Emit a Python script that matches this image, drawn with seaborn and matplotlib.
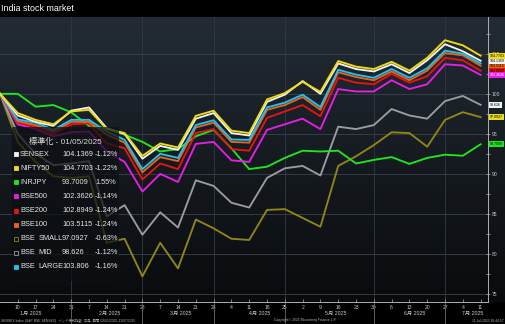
import numpy as np
import pandas as pd
import matplotlib
matplotlib.use("Agg")
import matplotlib.pyplot as plt
import matplotlib.dates as mdates
import matplotlib.transforms as mtrans
from matplotlib.patches import Rectangle
import seaborn as sns

# ---- data (weekly closes, normalised to 100 on 2025-01-03) ----
dates = pd.date_range("2025-01-03", periods=28, freq="7D")

nifty50 = [100, 97.6, 96.75, 96.2, 97.8, 98.0, 95.6, 95.1, 92.25, 93.8, 93.3, 97.25, 97.9, 95.4,
           95.1, 99.3, 100.1, 101.5, 100.25, 104.1, 103.4, 103.1, 104.0, 102.9, 104.5, 106.7, 106.06, 104.7703]
sensex = [100, 97.3, 96.5, 96.0, 97.9, 98.3, 95.7, 95.0, 91.9, 93.5, 93.0, 96.9, 97.6, 95.1,
          94.8, 99.0, 99.9, 101.6, 100.0, 103.8, 103.1, 102.8, 103.7, 102.6, 104.2, 106.2, 105.32, 104.1369]
bse_large = [100, 96.8, 96.4, 95.5, 96.75, 96.75, 95.3, 94.25, 90.6, 92.5, 92.0, 96.1, 96.7, 94.3,
             94.25, 98.3, 98.9, 99.9, 98.35, 103.0, 102.4, 102.0, 103.1, 102.0, 103.2, 105.4, 105.02, 103.806]
bse100 = [100, 96.6, 96.1, 95.3, 96.5, 96.5, 94.9, 93.9, 90.2, 92.1, 91.6, 95.8, 96.4, 94.0,
          93.9, 98.0, 98.6, 99.6, 98.0, 102.7, 102.1, 101.7, 102.8, 101.7, 102.9, 105.1, 104.81, 103.5115]
bse200 = [100, 96.4, 95.9, 95.0, 96.2, 96.3, 93.8, 93.2, 89.3, 91.3, 90.6, 95.1, 95.6, 93.1,
          92.9, 97.0, 97.8, 98.6, 97.2, 102.0, 101.4, 101.2, 102.5, 101.4, 102.2, 104.5, 104.19, 102.8949]
bse500 = [100, 96.2, 95.6, 94.7, 95.2, 95.3, 92.8, 91.5, 87.8, 90.0, 89.0, 93.75, 94.0, 91.7,
          91.5, 95.5, 96.2, 96.9, 95.6, 100.6, 100.3, 100.3, 101.7, 100.6, 101.2, 103.7, 103.54, 102.3626]
inrjpy = [100, 100.0, 98.4, 98.6, 97.7, 96.0, 95.7, 94.9, 94.0, 92.8, 93.1, 94.7, 95.5, 93.2,
          90.6, 90.9, 92.0, 92.9, 92.8, 92.9, 91.3, 91.75, 92.1, 91.25, 92.0, 92.4, 92.27, 93.7009]
bse_mid = [100, 95.0, 92.5, 91.1, 91.3, 91.6, 84.7, 86.1, 82.4, 85.2, 83.3, 89.2, 88.5, 86.4,
           85.8, 89.5, 90.7, 91.0, 89.8, 95.9, 95.6, 96.1, 98.1, 97.3, 96.9, 99.1, 99.74, 98.626]
bse_small = [100, 94.0, 91.5, 89.7, 89.5, 89.7, 81.4, 81.9, 77.2, 81.4, 78.2, 84.3, 83.2, 81.9,
             81.75, 85.5, 85.6, 84.5, 83.4, 91.0, 92.2, 93.6, 95.2, 95.1, 93.4, 96.75, 97.71, 97.0927]

legend_names = ["SENSEX", "NIFTY50", "INRJPY", "BSE500", "BSE200", "BSE100",
                ("BSE", "SMALL"), ("BSE", "MID"), ("BSE", "LARGE")]
legend_values = ["104.1369", "104.7703", "93.7009", "102.3626", "102.8949", "103.5115",
                 "97.0927", "98.626", "103.806"]
legend_changes = ["-1.12%", "-1.22%", "1.55%", "-1.14%", "-1.24%", "-1.24%",
                  "-0.63%", "-1.12%", "-1.16%"]
legend_title = "標準化 - 01/05/2025"
month_labels = ["1月 2025", "2月 2025", "3月 2025", "4月 2025", "5月 2025", "6月 2025", "7月 2025"]
y_ticks = [75, 80, 85, 90, 95, 100, 105]

series = {
    "SENSEX": sensex, "NIFTY50": nifty50, "INRJPY": inrjpy, "BSE500": bse500,
    "BSE200": bse200, "BSE100": bse100, "BSE SMALL": bse_small, "BSE MID": bse_mid,
    "BSE LARGE": bse_large,
}
colors = {
    "SENSEX": "#f2f2f2", "NIFTY50": "#f0dc14", "INRJPY": "#1ee61e", "BSE500": "#e61ee6",
    "BSE200": "#e61414", "BSE100": "#e6641e", "BSE SMALL": "#8f8616", "BSE MID": "#9c9c9c",
    "BSE LARGE": "#1ec3ef",
}
draw_order = ["BSE SMALL", "BSE MID", "INRJPY", "BSE500", "BSE200", "BSE100",
              "BSE LARGE", "SENSEX", "NIFTY50"]

df = pd.concat([pd.DataFrame({"date": dates, "value": v, "series": k}) for k, v in series.items()],
               ignore_index=True)

W, H = 505, 324
fig = plt.figure(figsize=(W / 100, H / 100), dpi=100, facecolor="black")
FONT = ["Liberation Sans", "Noto Sans CJK JP", "DejaVu Sans"]

plot_top_px, plot_bot_px, plot_right_px = 17, 302, 488

# gradient background behind the plot area
bg = fig.add_axes([0, 1 - plot_bot_px / H, 1, (plot_bot_px - plot_top_px) / H], zorder=0)
grad = np.linspace(0, 1, 256)[:, None]
top_c = np.array([0.135, 0.17, 0.205])
bot_c = np.array([0.035, 0.04, 0.05])
img = top_c[None, None, :] * (1 - grad[..., None]) + bot_c[None, None, :] * grad[..., None]
img = np.repeat(img, 2, axis=1)
bg.imshow(img, aspect="auto", extent=(0, 1, 0, 1))
bg.set_axis_off()

ax = fig.add_axes([0, 1 - plot_bot_px / H, plot_right_px / W, (plot_bot_px - plot_top_px) / H], zorder=1)
ax.set_facecolor("none")

sns.lineplot(data=df, x="date", y="value", hue="series", hue_order=draw_order,
             palette=colors, linewidth=1.35, legend=False, ax=ax)

x0 = mdates.date2num(dates[0])
day_span = 191.9
ax.set_xlim(x0, x0 + day_span)
ax.set_ylim(74.0, 109.6)

# grid
for yv in y_ticks:
    ax.axhline(yv, color="#3a444e", lw=0.6, zorder=0.5)
month_ends = [d for d in dates[:-1] if (d + pd.Timedelta(days=7)).month != d.month]
for d in month_ends:
    ax.axvline(d, color="#313a43", lw=0.6, zorder=0.5)

for s in ["top", "left"]:
    ax.spines[s].set_visible(False)
ax.spines["right"].set_color("#b0b0b0")
ax.spines["right"].set_linewidth(0.7)
ax.spines["bottom"].set_color("#b0b0b0")
ax.spines["bottom"].set_linewidth(0.7)

ax.yaxis.tick_right()
ax.set_yticks(y_ticks)
ax.set_yticks(np.arange(75, 110, 2.5), minor=True)
ax.tick_params(axis="y", which="both", direction="inout", length=2.5, width=0.5,
               colors="#b0b0b0", labelsize=3.6, pad=1.5, labelcolor="#c8c8c8")
ax.set_xticks(dates[1:])
ax.set_xticklabels([str(d.day) for d in dates[1:]], family=FONT)
for t in ax.get_yticklabels():
    t.set_family(FONT)
ax.tick_params(axis="x", direction="in", length=2, width=0.5, colors="#b0b0b0",
               labelsize=3.6, pad=2.0, labelcolor="#c8c8c8")
ax.set_xlabel("")
ax.set_ylabel("")

# month labels and separators below the axis
blend = mtrans.blended_transform_factory(ax.transData, ax.transAxes)
month_pos = [pd.Timestamp(f"2025-{m:02d}-15") for m in range(1, 8)]
month_pos[-1] = pd.Timestamp("2025-07-08")
for d, lab in zip(month_pos, month_labels):
    ax.text(d, -0.04, lab, transform=blend, ha="center", va="center", fontsize=3.8,
            color="#c8c8c8", family=FONT)
for d in month_ends:
    ax.plot([d, d], [0, -0.08], transform=blend, color="#6a6a6a", lw=0.6, clip_on=False)

# last-value tags on the right axis
tag_style = {
    "BSE LARGE": ("#1ec3ef", "black"), "BSE100": ("#e6641e", "black"),
    "BSE200": ("#e61414", "black"), "BSE500": ("#e61ee6", "white"),
    "SENSEX": ("#f2f2f2", "black"), "NIFTY50": ("#f0dc14", "black"),
    "BSE MID": ("#f2f2f2", "black"), "BSE SMALL": ("#e8dc1e", "black"),
    "INRJPY": ("#1ee61e", "black"),
}
tag_text = dict(zip(series.keys(), legend_values))
yblend = mtrans.blended_transform_factory(ax.transAxes, ax.transData)
for name in ["BSE LARGE", "BSE100", "BSE200", "BSE500", "SENSEX", "NIFTY50",
             "BSE MID", "BSE SMALL", "INRJPY"]:
    fc, tc = tag_style[name]
    ax.text(1.004, series[name][-1], tag_text[name], transform=yblend, ha="left", va="center",
            fontsize=2.6, color=tc, family=FONT, clip_on=False, zorder=5,
            bbox=dict(boxstyle="square,pad=0.3", fc=fc, ec="none"))

# title bar
fig.patches.append(Rectangle((0, 1 - plot_top_px / H), 1, plot_top_px / H,
                             transform=fig.transFigure, fc="black", ec="none", zorder=3))
fig.text(1 / W, 1 - 8.5 / H, "India stock market", ha="left", va="center", fontsize=6.4,
         color="white", family=FONT, zorder=4)

# legend panel
box_l, box_t, box_r, box_b = 12, 127, 119, 281
fig.patches.append(Rectangle((box_l / W, 1 - box_b / H), (box_r - box_l) / W, (box_b - box_t) / H,
                             transform=fig.transFigure, fc="#0c0f12", ec="none", alpha=0.72, zorder=2))
fig.text(29 / W, 1 - 141.5 / H, legend_title, ha="left", va="center", fontsize=5.9,
         color="#d8d8d8", family=FONT, zorder=4)
legend_keys = list(series.keys())
LFS = 5.3
for i, key in enumerate(legend_keys):
    yc = 1 - (154.3 + i * 14.05) / H
    col = colors[key]
    hollow = key in ("BSE SMALL", "BSE MID")
    fig.patches.append(Rectangle((14 / W, yc - 2 / H), 4 / W, 4 / H, transform=fig.transFigure,
                                 fc="none" if hollow else col, ec=col, lw=0.6, zorder=4))
    name = legend_names[i]
    if isinstance(name, tuple):
        fig.text(20 / W, yc, name[0], ha="left", va="center", fontsize=LFS,
                 color="#e6e6e6", family=FONT, zorder=4)
        fig.text(38.5 / W, yc, name[1], ha="left", va="center", fontsize=LFS,
                 color="#e6e6e6", family=FONT, zorder=4)
    else:
        fig.text(20 / W, yc, name, ha="left", va="center", fontsize=LFS,
                 color="#e6e6e6", family=FONT, zorder=4)
    fig.text(62 / W, yc, legend_values[i], ha="left", va="center", fontsize=LFS,
             color="#e6e6e6", family=FONT, zorder=4)
    fig.text(95 / W, yc, legend_changes[i], ha="left", va="center", fontsize=LFS,
             color="#e6e6e6", family=FONT, zorder=4)

# footer
fig.text(1 / W, 1 - 320.5 / H, "SENSEX Index (S&P BSE SENSEX)  インド株式指数  日足  期間 03/01/2025-11/07/2025",
         ha="left", va="center", fontsize=2.4, color="#b0b0b0", family=FONT)
fig.text(305 / W, 1 - 320.5 / H, "Copyright© 2025 Bloomberg Finance L.P.", ha="center", va="center",
         fontsize=2.4, color="#b0b0b0", family=FONT)
fig.text(504 / W, 1 - 320.5 / H, "11-Jul-2025 18:44:57", ha="right", va="center",
         fontsize=2.4, color="#b0b0b0", family=FONT)

fig.savefig("out.png", dpi=100, facecolor="black")
